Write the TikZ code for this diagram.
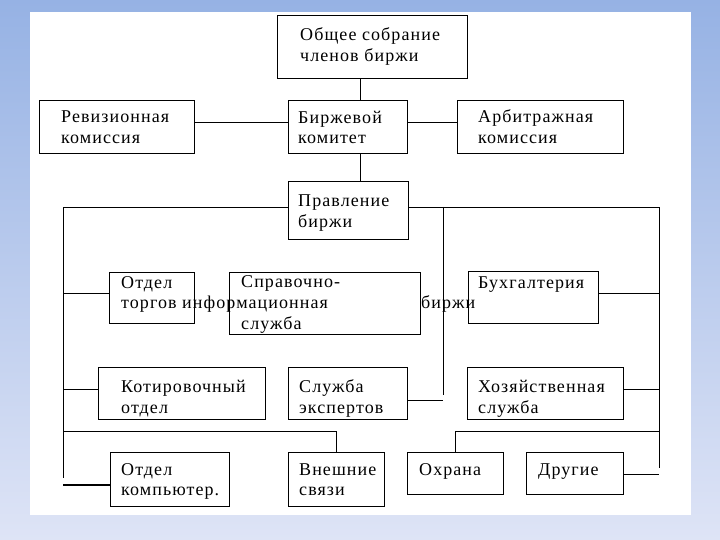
\documentclass[tikz,border=0pt]{standalone}
\usepackage{fontspec}
\setmainfont{Liberation Serif}[LetterSpace=6]
\definecolor{bgtop}{RGB}{150,178,228}
\definecolor{bgbot}{RGB}{222,228,246}
\begin{document}
\begin{tikzpicture}[x=1pt,y=-1pt,
  box/.style={draw, line width=1.3pt, inner sep=0pt, anchor=north west},
  txt/.style={inner sep=0pt, anchor=base west, font=\fontsize{18}{21}\selectfont},
  conn/.style={line width=0.9pt},
  thickconn/.style={line width=2pt}]
\useasboundingbox (0,0) rectangle (720,540);
% background
\shade[top color=bgtop, bottom color=bgbot] (0,0) rectangle (720,540);
\fill[white] (30,12) rectangle (691,515);
% boxes
\node[box, minimum width=190pt, minimum height=63pt] (top) at (277,15) {};
\node[box, minimum width=155pt, minimum height=53pt] (rev) at (39,100) {};
\node[box, minimum width=119pt, minimum height=53pt] (kom) at (288,100) {};
\node[box, minimum width=166pt, minimum height=53pt] (arb) at (457,100) {};
\node[box, minimum width=120pt, minimum height=58pt] (prav) at (288,181) {};
\node[box, minimum width=85pt, minimum height=51pt] (otd) at (109,272) {};
\node[box, minimum width=191pt, minimum height=62pt] (sprav) at (229,272) {};
\node[box, minimum width=130pt, minimum height=52pt] (buh) at (468,271) {};
\node[box, minimum width=167pt, minimum height=52pt] (kot) at (98,367) {};
\node[box, minimum width=119pt, minimum height=52pt] (sluzh) at (288,367) {};
\node[box, minimum width=156pt, minimum height=52pt] (khoz) at (467,367) {};
\node[box, minimum width=119pt, minimum height=54pt] (comp) at (110,452) {};
\node[box, minimum width=96pt, minimum height=54pt] (vnesh) at (288,452) {};
\node[box, minimum width=96pt, minimum height=42pt] (okh) at (407,452) {};
\node[box, minimum width=97pt, minimum height=42pt] (drug) at (526,452) {};
% junction coordinates
\coordinate (L207) at (63,207);
\coordinate (R207) at (659,207);
\coordinate (Lend) at (63,478);
\coordinate (Rend) at (659,468);
\coordinate (M207) at (443,207);
\coordinate (Mend) at (443,395);
\coordinate (L293) at (63,293);
\coordinate (R293) at (659,293);
\coordinate (L389) at (63,389);
\coordinate (R389) at (659,389);
\coordinate (M400) at (443,400);
\coordinate (L431) at (63,431);
\coordinate (R431) at (659,431);
\coordinate (L485) at (63,485);
\coordinate (R474) at (659,474);
% connectors
\draw[conn] (top.south -| 360,0) -- (kom.north -| 360,0);
\draw[conn] (rev.east |- 0,122) -- (kom.west |- 0,122);
\draw[conn] (kom.east |- 0,122) -- (arb.west |- 0,122);
\draw[conn] (kom.south -| 360,0) -- (prav.north -| 360,0);
\draw[conn] (prav.west |- L207) -- (L207) -- (Lend);
\draw[conn] (prav.east |- R207) -- (R207) -- (Rend);
\draw[conn] (M207) -- (Mend);
\draw[conn] (L293) -- (otd.west |- L293);
\draw[conn] (buh.east |- R293) -- (R293);
\draw[conn] (L389) -- (kot.west |- L389);
\draw[conn] (khoz.east |- R389) -- (R389);
\draw[conn] (sluzh.east |- M400) -- (M400);
\draw[conn] (L431) -| (vnesh.north);
\draw[conn] (R431) -| (okh.north);
\draw[thickconn] (L485) -- (comp.west |- L485);
\draw[conn] (drug.east |- R474) -- (R474);
% texts
\node[txt] (t1) at (300,41) {Общее собрание};
\node[txt] (t2) at (300,62) {членов биржи};
\node[txt] (t3) at (61,123) {Ревизионная};
\node[txt] (t4) at (61,144) {комиссия};
\node[txt] (t5) at (298,124) {Биржевой};
\node[txt] (t6) at (298,144) {комитет};
\node[txt] (t7) at (478,123) {Арбитражная};
\node[txt] (t8) at (478,144) {комиссия};
\node[txt] (t9) at (298,207) {Правление};
\node[txt] (t10) at (298,227) {биржи};
\node[txt] (t11) at (121,288) {Отдел};
\node[txt] (t12) at (121,308) {торгов информационная};
\node[txt] (t13) at (241,287) {Справочно-};
\node[txt] (t14) at (241,329) {служба};
\node[txt] (t15) at (421,308) {биржи};
\node[txt] (t16) at (478,288) {Бухгалтерия};
\node[txt] (t17) at (121,392) {Котировочный};
\node[txt] (t18) at (121,413) {отдел};
\node[txt] (t19) at (299,392) {Служба};
\node[txt] (t20) at (299,413) {экспертов};
\node[txt] (t21) at (478,392) {Хозяйственная};
\node[txt] (t22) at (478,413) {служба};
\node[txt] (t23) at (121,475) {Отдел};
\node[txt] (t24) at (121,495) {компьютер.};
\node[txt] (t25) at (299,475) {Внешние};
\node[txt] (t26) at (299,495) {связи};
\node[txt] (t27) at (419,475) {Охрана};
\node[txt] (t28) at (538,475) {Другие};
\end{tikzpicture}
\end{document}
